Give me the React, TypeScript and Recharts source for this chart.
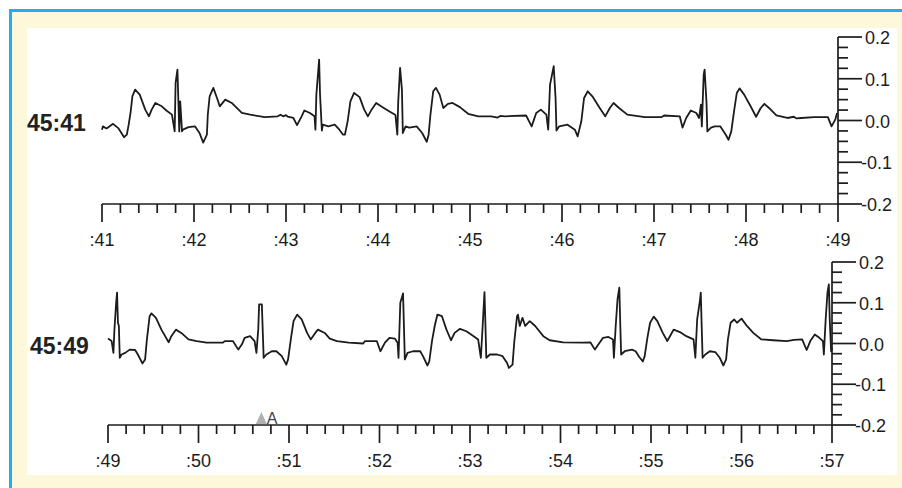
import React from 'react';
import { LineChart, Line, XAxis, YAxis, ReferenceDot } from 'recharts';

// ECG strip 1: 45:41 -> 45:49  [seconds, mV]
const strip1: [number, number][] = [
  [41.00,-0.022],[41.01,-0.014],[41.05,-0.019],[41.12,-0.008],[41.18,-0.019],[41.24,-0.040],[41.27,-0.034],[41.29,-0.010],[41.31,0.018],[41.33,0.058],[41.36,0.074],[41.41,0.062],[41.47,0.026],[41.51,0.010],[41.54,0.026],[41.58,0.042],[41.65,0.034],[41.70,0.024],[41.76,0.014],[41.79,-0.026],[41.80,0.090],[41.82,0.122],[41.84,-0.026],[41.85,0.046],[41.87,-0.026],[41.88,-0.022],[41.94,-0.016],[42.01,-0.014],[42.06,-0.030],[42.10,-0.053],[42.14,-0.034],[42.15,0.014],[42.17,0.058],[42.21,0.078],[42.25,0.054],[42.28,0.034],[42.34,0.050],[42.41,0.042],[42.52,0.018],[42.61,0.014],[42.77,0.008],[42.91,0.010],[42.94,0.014],[42.97,0.010],[43.00,0.013],[43.02,0.009],[43.08,0.006],[43.12,-0.011],[43.17,0.010],[43.20,0.024],[43.26,0.018],[43.31,0.010],[43.32,-0.022],[43.33,0.062],[43.36,0.146],[43.37,0.062],[43.39,-0.024],[43.40,-0.010],[43.46,-0.014],[43.53,-0.010],[43.58,-0.022],[43.62,-0.034],[43.64,-0.034],[43.67,-0.002],[43.70,0.046],[43.74,0.066],[43.80,0.056],[43.85,0.026],[43.89,0.010],[43.93,0.026],[43.98,0.042],[44.05,0.032],[44.13,0.021],[44.19,0.013],[44.21,-0.034],[44.22,0.046],[44.24,0.126],[44.26,0.074],[44.27,-0.030],[44.30,-0.014],[44.34,-0.017],[44.42,-0.014],[44.48,-0.030],[44.53,-0.051],[44.55,-0.034],[44.57,0.014],[44.60,0.070],[44.63,0.078],[44.67,0.062],[44.71,0.030],[44.76,0.040],[44.81,0.042],[44.89,0.032],[44.98,0.016],[45.09,0.010],[45.23,0.010],[45.30,0.007],[45.33,0.011],[45.38,0.010],[45.61,0.012],[45.67,-0.014],[45.72,0.018],[45.77,0.026],[45.83,0.014],[45.85,-0.022],[45.87,0.086],[45.91,0.130],[45.93,0.054],[45.94,-0.024],[45.97,-0.014],[46.06,-0.010],[46.14,-0.022],[46.17,-0.038],[46.21,-0.002],[46.24,0.054],[46.28,0.070],[46.33,0.058],[46.41,0.030],[46.47,0.010],[46.52,0.030],[46.56,0.042],[46.62,0.030],[46.71,0.014],[46.90,0.008],[47.08,0.008],[47.11,0.012],[47.28,0.010],[47.31,-0.017],[47.35,0.006],[47.40,0.024],[47.46,0.018],[47.49,0.006],[47.51,0.038],[47.52,-0.014],[47.54,0.110],[47.55,0.122],[47.57,0.046],[47.58,-0.026],[47.62,-0.017],[47.66,-0.014],[47.72,-0.014],[47.78,-0.034],[47.81,-0.046],[47.84,-0.026],[47.87,0.022],[47.90,0.066],[47.93,0.077],[47.98,0.062],[48.05,0.034],[48.11,0.009],[48.16,0.030],[48.20,0.040],[48.25,0.030],[48.33,0.012],[48.45,0.006],[48.52,0.009],[48.55,0.005],[48.60,0.006],[48.74,0.008],[48.89,0.008],[48.93,-0.014],[48.97,0.002],[48.99,0.018],
];

// ECG strip 2: 45:49 -> 45:57
const strip2: [number, number][] = [
  [49.00,0.012],[49.04,0.006],[49.06,-0.023],[49.07,0.030],[49.09,0.100],[49.10,0.125],[49.11,0.051],[49.12,0.043],[49.13,-0.035],[49.15,-0.027],[49.19,-0.023],[49.24,-0.015],[49.30,-0.016],[49.33,-0.027],[49.38,-0.049],[49.41,-0.039],[49.43,0.010],[49.46,0.067],[49.48,0.074],[49.53,0.063],[49.59,0.034],[49.67,0.003],[49.70,0.018],[49.75,0.034],[49.81,0.026],[49.89,0.010],[49.98,0.006],[50.09,0.002],[50.27,0.002],[50.29,0.006],[50.38,0.006],[50.44,-0.015],[50.48,-0.002],[50.51,0.014],[50.57,0.018],[50.62,0.006],[50.64,-0.023],[50.66,0.034],[50.67,0.096],[50.70,0.096],[50.71,0.030],[50.72,-0.035],[50.75,-0.027],[50.81,-0.019],[50.86,-0.019],[50.92,-0.031],[50.97,-0.052],[50.99,-0.039],[51.02,0.010],[51.05,0.055],[51.09,0.071],[51.14,0.059],[51.20,0.026],[51.24,0.010],[51.29,0.026],[51.32,0.034],[51.40,0.025],[51.45,0.012],[51.53,0.006],[51.66,0.002],[51.82,0.000],[51.84,0.006],[51.97,0.006],[52.01,-0.019],[52.06,0.002],[52.11,0.014],[52.17,0.012],[52.20,0.002],[52.21,-0.035],[52.23,0.100],[52.26,0.123],[52.27,0.043],[52.28,-0.039],[52.31,-0.023],[52.37,-0.019],[52.45,-0.019],[52.48,-0.031],[52.53,-0.054],[52.55,-0.044],[52.58,0.006],[52.61,0.043],[52.64,0.071],[52.69,0.067],[52.74,0.034],[52.79,0.008],[52.83,0.026],[52.89,0.036],[52.96,0.030],[53.04,0.018],[53.09,0.010],[53.12,-0.035],[53.14,0.043],[53.16,0.126],[53.17,0.051],[53.18,-0.035],[53.22,-0.027],[53.30,-0.027],[53.36,-0.031],[53.41,-0.048],[53.43,-0.060],[53.47,-0.052],[53.49,0.006],[53.52,0.067],[53.53,0.071],[53.55,0.043],[53.58,0.063],[53.61,0.043],[53.66,0.055],[53.72,0.043],[53.81,0.018],[53.88,0.008],[54.03,0.003],[54.25,0.002],[54.33,0.003],[54.38,-0.015],[54.42,-0.002],[54.47,0.014],[54.53,0.016],[54.58,0.010],[54.59,-0.035],[54.61,0.043],[54.63,0.108],[54.65,0.137],[54.66,0.051],[54.67,-0.027],[54.71,-0.019],[54.79,-0.015],[54.83,-0.019],[54.87,-0.033],[54.91,-0.044],[54.93,-0.031],[54.96,0.014],[54.99,0.051],[55.03,0.066],[55.07,0.055],[55.13,0.026],[55.18,0.006],[55.22,0.022],[55.25,0.034],[55.32,0.028],[55.39,0.018],[55.47,0.010],[55.49,-0.035],[55.51,0.059],[55.54,0.104],[55.55,0.125],[55.56,0.043],[55.57,-0.035],[55.60,-0.027],[55.65,-0.019],[55.71,-0.021],[55.76,-0.035],[55.80,-0.054],[55.83,-0.039],[55.85,0.010],[55.88,0.051],[55.92,0.059],[55.95,0.051],[56.00,0.061],[56.06,0.043],[56.13,0.026],[56.22,0.010],[56.35,0.008],[56.50,0.006],[56.58,0.009],[56.67,0.010],[56.72,-0.016],[56.76,0.006],[56.81,0.022],[56.86,0.014],[56.90,0.006],[56.91,-0.027],[56.93,0.059],[56.95,0.125],[56.965,0.145],[56.975,0.059],[56.99,-0.019],[57.00,-0.011],
];

const strip1Label = '45:41';
const strip2Label = '45:49';

const strip1XTicks = [41,41.2,41.4,41.6,41.8,42,42.2,42.4,42.6,42.8,43,43.2,43.4,43.6,43.8,44,44.2,44.4,44.6,44.8,45,45.2,45.4,45.6,45.8,46,46.2,46.4,46.6,46.8,47,47.2,47.4,47.6,47.8,48,48.2,48.4,48.6,48.8,49];
const strip2XTicks = [49,49.2,49.4,49.6,49.8,50,50.2,50.4,50.6,50.8,51,51.2,51.4,51.6,51.8,52,52.2,52.4,52.6,52.8,53,53.2,53.4,53.6,53.8,54,54.2,54.4,54.6,54.8,55,55.2,55.4,55.6,55.8,56,56.2,56.4,56.6,56.8,57];
const yTicks = [-0.2,-0.175,-0.15,-0.125,-0.1,-0.075,-0.05,-0.025,0,0.025,0.05,0.075,0.1,0.125,0.15,0.175,0.2];
const yTickLabels: Record<string, string> = { '0.2': '0.2', '0.1': '0.1', '0': '0.0', '-0.1': '-0.1', '-0.2': '-0.2' };

const markers = [{ t: 50.70, label: 'A' }];

const INK = '#1c1c1c';
const FONT = '"Liberation Sans", Arial, sans-serif';

const isMajorX = (v: number) => Math.abs(v - Math.round(v)) < 1e-6;

const XTick = (props: any) => {
  const { x, y, payload } = props;
  const v = payload.value as number;
  const major = isMajorX(v);
  return (
    <g>
      <line x1={x} x2={x} y1={y} y2={y + (major ? 18 : 9)} stroke={INK} strokeWidth={1.7} />
      {major && (
        <text x={x} y={y + 42} textAnchor="middle" fontFamily={FONT} fontSize={18} fill={INK}>
          {':' + String(Math.round(v))}
        </text>
      )}
    </g>
  );
};

const YTick = (props: any) => {
  const { x, y, payload } = props;
  const v = payload.value as number;
  const key = String(Math.round(v * 1000) / 1000);
  const label = yTickLabels[key];
  const major = label !== undefined;
  return (
    <g>
      <line x1={x} x2={x + (major ? 24 : 10)} y1={y} y2={y} stroke={INK} strokeWidth={1.7} />
      {major && (
        <text x={x + (label.startsWith('-') ? 23 : 27)} y={y + 7} textAnchor="start" fontFamily={FONT} fontSize={18} fill={INK}>
          {label}
        </text>
      )}
    </g>
  );
};

const Marker = (props: any) => {
  const { cx, cy } = props;
  return (
    <g>
      <polygon points={`${cx - 6},${cy - 1} ${cx + 5},${cy - 1} ${cx - 0.5},${cy - 13}`} fill="#b0b0b0" />
      <text x={cx + 5} y={cy - 1} fontFamily={FONT} fontSize={16} fill="#444">{markers[0].label}</text>
    </g>
  );
};

const toRows = (s: [number, number][]) => s.map(([t, v]) => ({ t, v }));

export default function App() {
  const rows1 = toRows(strip1);
  const rows2 = toRows(strip2);
  return (
    <div style={{ position: 'absolute', left: 0, top: 0, width: 902, height: 488, background: '#ffffff', overflow: 'hidden' }}>
      <div style={{ position: 'absolute', left: 9, top: 9, width: 900, height: 490, background: '#fdf8da', borderLeft: '3px solid #22aee8', borderTop: '3px solid #22aee8' }} />
      <div style={{ position: 'absolute', left: 27, top: 28, width: 870, height: 447, background: '#ffffff' }} />

      <div style={{ position: 'absolute', left: 27, top: 110, fontFamily: FONT, fontWeight: 'bold', fontSize: 23, color: '#222' }}>{strip1Label}</div>
      <div style={{ position: 'absolute', left: 30, top: 333, fontFamily: FONT, fontWeight: 'bold', fontSize: 23, color: '#222' }}>{strip2Label}</div>

      <div style={{ position: 'absolute', left: 0, top: 0 }}>
        <LineChart width={902} height={250} data={rows1} margin={{ top: 37, left: 102, right: 0, bottom: 0 }}>
          <XAxis dataKey="t" type="number" domain={[41, 49]} ticks={strip1XTicks} interval={0} height={46}
            tickSize={0} tickMargin={0} tick={<XTick />} axisLine={{ stroke: INK, strokeWidth: 1.7 }} tickLine={false} />
          <YAxis orientation="right" type="number" domain={[-0.2, 0.2]} ticks={yTicks} interval={0} width={64}
            tickSize={0} tickMargin={0} tick={<YTick />} axisLine={{ stroke: INK, strokeWidth: 1.7 }} tickLine={false} />
          <Line dataKey="v" type="linear" stroke={INK} strokeWidth={1.8} strokeLinejoin="round" dot={false} isAnimationActive={false} />
        </LineChart>
      </div>

      <div style={{ position: 'absolute', left: 0, top: 225 }}>
        <LineChart width={902} height={263} data={rows2} margin={{ top: 37, left: 108, right: 0, bottom: 0 }}>
          <XAxis dataKey="t" type="number" domain={[49, 57]} ticks={strip2XTicks} interval={0} height={63}
            tickSize={0} tickMargin={0} tick={<XTick />} axisLine={{ stroke: INK, strokeWidth: 1.7 }} tickLine={false} />
          <YAxis orientation="right" type="number" domain={[-0.2, 0.2]} ticks={yTicks} interval={0} width={70}
            tickSize={0} tickMargin={0} tick={<YTick />} axisLine={{ stroke: INK, strokeWidth: 1.7 }} tickLine={false} />
          <Line dataKey="v" type="linear" stroke={INK} strokeWidth={1.8} strokeLinejoin="round" dot={false} isAnimationActive={false} />
          {markers.map((m) => (
            <ReferenceDot key={m.t} x={m.t} y={-0.2} r={0} ifOverflow="visible" shape={<Marker />} />
          ))}
        </LineChart>
      </div>
    </div>
  );
}
